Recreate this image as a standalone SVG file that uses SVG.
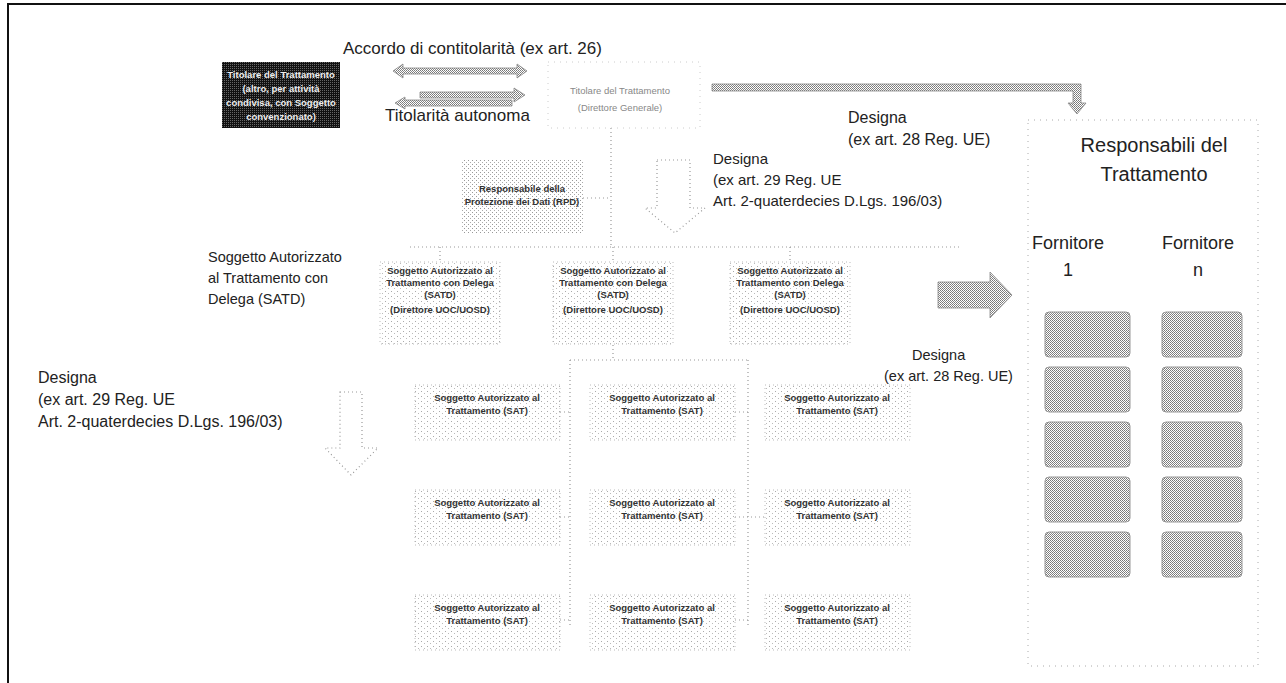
<svg xmlns="http://www.w3.org/2000/svg" width="1286" height="683" viewBox="0 0 1286 683">
<defs>
<pattern id="checker" width="2" height="2" patternUnits="userSpaceOnUse"><rect width="2" height="2" fill="#fff"/><rect width="1" height="1" fill="#777"/><rect x="1" y="1" width="1" height="1" fill="#888"/></pattern>
<pattern id="darkp" width="2" height="2" patternUnits="userSpaceOnUse"><rect width="2" height="2" fill="#111"/><rect width="1" height="1" fill="#666"/></pattern>
<pattern id="speckle" width="6" height="5" patternUnits="userSpaceOnUse"><rect width="6" height="5" fill="#fff"/><rect x="1" y="1" width="1" height="1" fill="#aaa"/><rect x="4" y="3" width="1" height="1" fill="#bbb"/></pattern>
<pattern id="speckle2" width="4" height="4" patternUnits="userSpaceOnUse"><rect width="4" height="4" fill="#fff"/><rect x="0" y="0" width="1" height="1" fill="#999"/><rect x="2" y="2" width="1" height="1" fill="#aaa"/></pattern>
</defs>
<style>
text{font-family:"Liberation Sans",Arial,sans-serif;fill:#222}
.lbl{font-size:14.5px}
.lbl15{font-size:15px}
.lbl16{font-size:16px}
.lbl17{font-size:17px}
.big{font-size:20px}
.forn{font-size:18px;text-anchor:middle}
.box{font-size:9.5px;font-weight:bold;fill:#333;text-anchor:middle}
.wbox{font-size:9.5px;font-weight:bold;fill:#eee;text-anchor:middle}
.faint{font-size:9.5px;fill:#888;text-anchor:middle}
.ln{stroke:#999;stroke-width:1.2;stroke-dasharray:1 3;fill:none}
.sat{fill:url(#speckle);stroke:#bbb;stroke-width:1;stroke-dasharray:1 3}
.sup{fill:url(#checker);stroke:#999;stroke-width:1}
.arr{fill:url(#checker);stroke:#888;stroke-width:0.8}
.oarr{fill:none;stroke:#999;stroke-width:1.2;stroke-dasharray:1 3}
</style>

<!-- scan frame -->
<path d="M8 683 V4 H1286" fill="none" stroke="#111" stroke-width="2"/>

<!-- connectors -->
<g id="connectors">
<polygon class="arr" points="393,71 403,64 403,68 517,68 517,64 527,71 517,78 517,74 403,74 403,78"/>
<polygon class="arr" points="420,92 514,92 514,88 525,95 514,102 514,98 420,98"/>
<polygon class="arr" points="395,103 405,97 405,100 512,100 512,106 405,106 405,109"/>
<polygon class="arr" points="712,84 1081,84 1081,103 1086,103 1077,114 1068,103 1073,103 1073,91 712,91"/>
<path class="ln" d="M611 128 V247"/>
<path class="ln" d="M583 198 H611"/>
<path class="ln" d="M410 247 H960"/>
<path class="ln" d="M440 247 V262 M613 247 V262 M790 247 V262"/>
<path class="ln" d="M613 345 V360 M570 360 V625 M748 360 V625 M570 360 H748"/>
<path class="ln" d="M560 412 H570 M560 517 H570 M560 620 H570 M735 412 H748 M735 517 H765 M735 620 H748"/>
<polygon class="oarr" points="657,160 690,160 690,208 705,208 675,233 645,208 657,208"/>
<polygon class="oarr" points="340,392 362,392 362,448 378,448 351,475 325,448 340,448"/>
<polygon class="arr" points="938,282 990,282 990,272 1012,295 990,318 990,308 938,308"/>
</g>

<!-- labels -->
<text class="lbl17" x="343" y="54">Accordo di contitolarità (ex art. 26)</text>
<text class="lbl17" x="385" y="121">Titolarità autonoma</text>
<text class="lbl16" x="848" y="123">Designa</text>
<text class="lbl16" x="848" y="145">(ex art. 28 Reg. UE)</text>
<text class="lbl15" x="713" y="164">Designa</text>
<text class="lbl15" x="713" y="185">(ex art. 29 Reg. UE</text>
<text class="lbl15" x="713" y="206">Art. 2-quaterdecies D.Lgs. 196/03)</text>
<text class="lbl" x="208" y="262">Soggetto Autorizzato</text>
<text class="lbl" x="208" y="283">al Trattamento con</text>
<text class="lbl" x="208" y="304">Delega (SATD)</text>
<text class="lbl" x="912" y="360">Designa</text>
<text class="lbl" x="884" y="381">(ex art. 28 Reg. UE)</text>
<text class="lbl16" x="38" y="383">Designa</text>
<text class="lbl16" x="38" y="405">(ex art. 29 Reg. UE</text>
<text class="lbl16" x="38" y="427">Art. 2-quaterdecies D.Lgs. 196/03)</text>

<!-- nodes -->
<g id="titolare-altro">
<rect x="222" y="62" width="118" height="66" fill="url(#darkp)"/>
<text class="wbox" x="281" y="78">Titolare del Trattamento</text>
<text class="wbox" x="281" y="92">(altro, per attività</text>
<text class="wbox" x="281" y="106">condivisa, con Soggetto</text>
<text class="wbox" x="281" y="120">convenzionato)</text>
</g>
<g id="titolare-dg">
<rect x="548" y="62" width="152" height="66" fill="none" stroke="#ccc" stroke-dasharray="1 5"/>
<text class="faint" x="620" y="94">Titolare del Trattamento</text>
<text class="faint" x="620" y="111">(Direttore Generale)</text>
</g>
<g id="rpd">
<rect x="462" y="160" width="121" height="73" fill="url(#speckle2)"/>
<text class="box" x="522" y="192">Responsabile della</text>
<text class="box" x="522" y="205">Protezione dei Dati (RPD)</text>
</g>

<g id="satd-1">
<rect class="sat" x="380" y="262" width="120" height="82"/>
<text class="box" x="440" y="274">Soggetto Autorizzato al</text>
<text class="box" x="440" y="286">Trattamento con Delega</text>
<text class="box" x="440" y="298">(SATD)</text>
<text class="box" x="440" y="313">(Direttore UOC/UOSD)</text>
</g>
<g id="satd-2">
<rect class="sat" x="553" y="262" width="120" height="82"/>
<text class="box" x="613" y="274">Soggetto Autorizzato al</text>
<text class="box" x="613" y="286">Trattamento con Delega</text>
<text class="box" x="613" y="298">(SATD)</text>
<text class="box" x="613" y="313">(Direttore UOC/UOSD)</text>
</g>
<g id="satd-3">
<rect class="sat" x="730" y="262" width="120" height="82"/>
<text class="box" x="790" y="274">Soggetto Autorizzato al</text>
<text class="box" x="790" y="286">Trattamento con Delega</text>
<text class="box" x="790" y="298">(SATD)</text>
<text class="box" x="790" y="313">(Direttore UOC/UOSD)</text>
</g>

<g id="sat-1-1"><rect class="sat" x="415" y="385" width="145" height="55"/><text class="box" x="487" y="401">Soggetto Autorizzato al</text><text class="box" x="487" y="414">Trattamento (SAT)</text></g>
<g id="sat-1-2"><rect class="sat" x="590" y="385" width="145" height="55"/><text class="box" x="662" y="401">Soggetto Autorizzato al</text><text class="box" x="662" y="414">Trattamento (SAT)</text></g>
<g id="sat-1-3"><rect class="sat" x="765" y="385" width="145" height="55"/><text class="box" x="837" y="401">Soggetto Autorizzato al</text><text class="box" x="837" y="414">Trattamento (SAT)</text></g>
<g id="sat-2-1"><rect class="sat" x="415" y="490" width="145" height="55"/><text class="box" x="487" y="506">Soggetto Autorizzato al</text><text class="box" x="487" y="519">Trattamento (SAT)</text></g>
<g id="sat-2-2"><rect class="sat" x="590" y="490" width="145" height="55"/><text class="box" x="662" y="506">Soggetto Autorizzato al</text><text class="box" x="662" y="519">Trattamento (SAT)</text></g>
<g id="sat-2-3"><rect class="sat" x="765" y="490" width="145" height="55"/><text class="box" x="837" y="506">Soggetto Autorizzato al</text><text class="box" x="837" y="519">Trattamento (SAT)</text></g>
<g id="sat-3-1"><rect class="sat" x="415" y="595" width="145" height="55"/><text class="box" x="487" y="611">Soggetto Autorizzato al</text><text class="box" x="487" y="624">Trattamento (SAT)</text></g>
<g id="sat-3-2"><rect class="sat" x="590" y="595" width="145" height="55"/><text class="box" x="662" y="611">Soggetto Autorizzato al</text><text class="box" x="662" y="624">Trattamento (SAT)</text></g>
<g id="sat-3-3"><rect class="sat" x="765" y="595" width="145" height="55"/><text class="box" x="837" y="611">Soggetto Autorizzato al</text><text class="box" x="837" y="624">Trattamento (SAT)</text></g>

<g id="responsabili">
<rect x="1028" y="120" width="230" height="546" fill="none" stroke="#aaa" stroke-dasharray="1 5"/>
<text class="big" x="1154" y="152" text-anchor="middle">Responsabili del</text>
<text class="big" x="1154" y="181" text-anchor="middle">Trattamento</text>
<text class="forn" x="1068" y="249">Fornitore</text>
<text class="forn" x="1068" y="276">1</text>
<text class="forn" x="1198" y="249">Fornitore</text>
<text class="forn" x="1198" y="276">n</text>
</g>
<g id="fornitore-1">
<rect class="sup" x="1045" y="312" width="85" height="45" rx="4"/>
<rect class="sup" x="1045" y="367" width="85" height="45" rx="4"/>
<rect class="sup" x="1045" y="422" width="85" height="45" rx="4"/>
<rect class="sup" x="1045" y="477" width="85" height="45" rx="4"/>
<rect class="sup" x="1045" y="532" width="85" height="45" rx="4"/>
</g>
<g id="fornitore-n">
<rect class="sup" x="1162" y="312" width="80" height="45" rx="4"/>
<rect class="sup" x="1162" y="367" width="80" height="45" rx="4"/>
<rect class="sup" x="1162" y="422" width="80" height="45" rx="4"/>
<rect class="sup" x="1162" y="477" width="80" height="45" rx="4"/>
<rect class="sup" x="1162" y="532" width="80" height="45" rx="4"/>
</g>
</svg>
